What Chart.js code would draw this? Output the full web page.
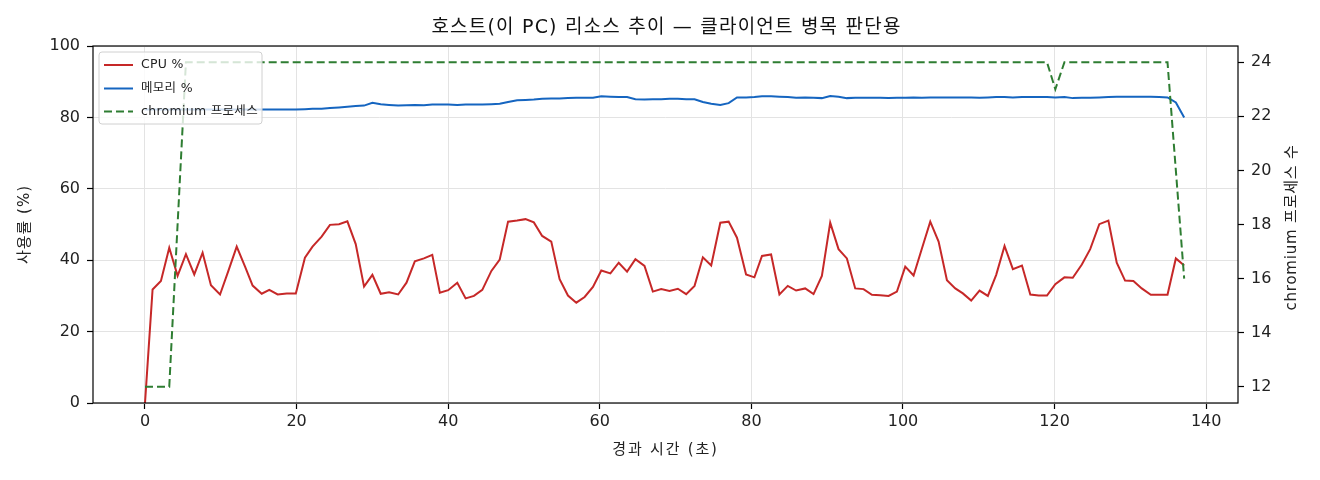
<!DOCTYPE html>
<html><head><meta charset="utf-8">
<script src="https://cdn.jsdelivr.net/npm/chart.js@4.4.0/dist/chart.umd.min.js"></script>
<style>html,body{margin:0;padding:0;background:#fff;}</style>
</head><body>
<canvas id="c" width="1320" height="480"></canvas>
<script>
const chartTitle = '호스트(이 PC) 리소스 추이 — 클라이언트 병목 판단용';
const xTitle = '경과 시간 (초)';
const yLeftTitle = '사용률 (%)';
const yRightTitle = 'chromium 프로세스 수';
const seriesNames = ['CPU %', '메모리 %', 'chromium 프로세스'];

const times = [0.0,1.0,2.1,3.2,4.3,5.4,6.5,7.6,8.7,9.9,
  11.0,12.1,13.2,14.2,15.4,16.4,17.5,18.7,19.9,21.1,
  22.1,23.3,24.4,25.6,26.7,27.8,28.9,30.0,31.1,32.2,
  33.4,34.5,35.6,36.8,37.9,38.9,40.0,41.2,42.3,43.4,
  44.5,45.7,46.8,47.9,49.1,50.2,51.3,52.4,53.6,54.7,
  55.8,56.9,58.0,59.1,60.2,61.4,62.5,63.6,64.7,65.9,
  67.0,68.1,69.2,70.3,71.4,72.5,73.6,74.7,75.9,77.0,
  78.1,79.3,80.4,81.4,82.6,83.7,84.8,85.9,87.1,88.2,
  89.3,90.4,91.5,92.6,93.7,94.8,95.9,97.0,98.1,99.2,
  100.3,101.4,102.5,103.6,104.7,105.8,106.9,107.9,109.0,110.1,
  111.2,112.3,113.4,114.5,115.7,116.8,117.9,119.0,120.1,121.3,
  122.4,123.6,124.7,125.9,127.1,128.2,129.3,130.4,131.5,132.7,
  133.8,134.9,136.0,137.1];

const cpuPct = [0,31.8,34.2,43.5,35.6,41.7,36.0,42.1,33.0,30.4,
  37.0,43.8,38.2,32.9,30.6,31.7,30.4,30.7,30.7,40.7,
  43.8,46.6,49.9,50.1,50.9,44.5,32.6,35.9,30.6,31.0,
  30.4,33.7,39.7,40.5,41.5,30.9,31.6,33.7,29.3,30.0,
  31.7,37.0,40.2,50.8,51.1,51.5,50.6,46.8,45.2,34.7,
  30.1,28.1,29.7,32.5,37.1,36.3,39.3,36.8,40.3,38.4,
  31.2,31.9,31.4,32.0,30.5,32.8,40.8,38.5,50.5,50.8,
  46.3,36.0,35.2,41.2,41.6,30.4,32.8,31.5,32.1,30.5,
  35.6,50.5,43.1,40.5,32.1,31.9,30.3,30.2,30.0,31.2,
  38.2,35.7,43.3,50.8,45.2,34.4,32.1,30.7,28.7,31.5,
  30.0,35.9,44.0,37.5,38.5,30.4,30.1,30.1,33.3,35.2,
  35.1,38.8,43.1,50.1,51.1,39.3,34.3,34.2,32.1,30.3,
  30.3,30.3,40.5,38.5];

const memPct = [82.2,82.2,82.2,82.2,82.2,82.2,82.2,82.2,82.2,82.2,
  82.2,82.2,82.2,82.2,82.2,82.2,82.2,82.2,82.2,82.3,
  82.4,82.4,82.6,82.8,83.0,83.2,83.3,84.1,83.7,83.5,
  83.3,83.4,83.5,83.4,83.6,83.6,83.6,83.5,83.6,83.6,
  83.6,83.7,83.8,84.3,84.8,84.9,85.0,85.2,85.3,85.3,
  85.4,85.5,85.5,85.5,85.9,85.8,85.7,85.7,85.1,85.0,
  85.1,85.1,85.2,85.2,85.1,85.1,84.3,83.8,83.5,84.0,
  85.6,85.6,85.7,85.9,85.9,85.8,85.7,85.5,85.6,85.5,
  85.4,86.0,85.8,85.4,85.5,85.5,85.5,85.5,85.4,85.5,
  85.5,85.6,85.5,85.6,85.6,85.6,85.6,85.6,85.6,85.5,
  85.6,85.7,85.7,85.6,85.7,85.7,85.7,85.7,85.6,85.7,
  85.4,85.5,85.5,85.6,85.7,85.8,85.8,85.8,85.8,85.8,
  85.7,85.6,84.2,80.0];

const procCount = [12,12,12,12,18,24,24,24,24,24,
  24,24,24,24,24,24,24,24,24,24,
  24,24,24,24,24,24,24,24,24,24,
  24,24,24,24,24,24,24,24,24,24,
  24,24,24,24,24,24,24,24,24,24,
  24,24,24,24,24,24,24,24,24,24,
  24,24,24,24,24,24,24,24,24,24,
  24,24,24,24,24,24,24,24,24,24,
  24,24,24,24,24,24,24,24,24,24,
  24,24,24,24,24,24,24,24,24,24,
  24,24,24,24,24,24,24,24,23,24,
  24,24,24,24,24,24,24,24,24,24,
  24,24,20,16];

const xTicks = [0,20,40,60,80,100,120,140];
const yLeftTicks = [0,20,40,60,80,100];
const yRightTicks = [12,14,16,18,20,22,24];

const FONT = "'DejaVu Sans','Noto Sans CJK KR',sans-serif";
const colors = ['#c62828','#1565c0','#2e7d32'];

function pts(ys){ return times.map((t,i)=>({x:t,y:ys[i]})); }

function spacedText(ctx, text, x, y, spacing){
  if ('letterSpacing' in ctx) { ctx.letterSpacing = spacing + 'px'; }
  ctx.fillText(text, x, y);
  if ('letterSpacing' in ctx) { ctx.letterSpacing = '0px'; }
}

const framePlugin = {
  id:'frame',
  afterDraw(chart){
    const {ctx, chartArea:a} = chart;
    ctx.save();
    ctx.strokeStyle = '#000'; ctx.lineWidth = 1.2;
    ctx.strokeRect(a.left, a.top, a.right-a.left, a.bottom-a.top);
    const cx = (a.left+a.right)/2, cy = (a.top+a.bottom)/2;
    ctx.fillStyle = '#111';
    ctx.textAlign = 'center'; ctx.textBaseline = 'middle';
    // title
    ctx.font = "19px " + FONT;
    spacedText(ctx, chartTitle, cx + 1, 28, 1.2);
    // axis titles
    ctx.fillStyle = '#222';
    ctx.font = "15px " + FONT;
    spacedText(ctx, xTitle, cx, 450, 1.8);
    ctx.save(); ctx.translate(25, cy); ctx.rotate(-Math.PI/2);
    spacedText(ctx, yLeftTitle, 0, 0, 1); ctx.restore();
    ctx.save(); ctx.translate(1292, cy + 3); ctx.rotate(-Math.PI/2);
    spacedText(ctx, yRightTitle, 0, 0, 0.8); ctx.restore();
    // legend
    const lx = 99, ly = 52, lw = 163, lh = 72;
    ctx.beginPath();
    if (ctx.roundRect) ctx.roundRect(lx, ly, lw, lh, 3); else ctx.rect(lx,ly,lw,lh);
    ctx.fillStyle = 'rgba(255,255,255,0.8)'; ctx.fill();
    ctx.strokeStyle = '#d0d0d0'; ctx.lineWidth = 1; ctx.stroke();
    const rows = [65, 88.5, 111.5];
    chart.data.datasets.forEach((ds,i)=>{
      ctx.beginPath();
      ctx.strokeStyle = ds.borderColor; ctx.lineWidth = ds.borderWidth;
      ctx.setLineDash(ds.borderDash || []);
      ctx.moveTo(104, rows[i]); ctx.lineTo(133, rows[i]); ctx.stroke();
      ctx.setLineDash([]);
      ctx.fillStyle = '#222';
      ctx.font = "12.5px " + FONT;
      ctx.textAlign = 'left'; ctx.textBaseline = 'middle';
      spacedText(ctx, ds.label, 141, rows[i], 0.3);
    });
    ctx.restore();
  }
};

const setTicks = arr => scale => { scale.ticks = arr.map(v=>({value:v})); };

new Chart(document.getElementById('c'), {
  type: 'line',
  data: {
    datasets: [
      {label: seriesNames[0], data: pts(cpuPct), borderColor: colors[0], borderWidth: 2, pointRadius: 0, tension: 0, yAxisID: 'y', order: 2},
      {label: seriesNames[1], data: pts(memPct), borderColor: colors[1], borderWidth: 2, pointRadius: 0, tension: 0, yAxisID: 'y', order: 1},
      {label: seriesNames[2], data: pts(procCount), borderColor: colors[2], borderWidth: 2, borderDash: [8,4], pointRadius: 0, tension: 0, yAxisID: 'y2', order: 0}
    ]
  },
  options: {
    responsive: false,
    animation: false,
    devicePixelRatio: 1,
    layout: {padding: {top: 46, left: 0, right: 0, bottom: 0}},
    plugins: {legend: {display: false}, tooltip: {enabled: false}, title: {display: false}},
    scales: {
      x: {
        type: 'linear', min: -6.86, max: 144.2,
        afterBuildTicks: setTicks(xTicks),
        afterFit: s => { s.height = 77; },
        grid: {color: '#e3e3e3', lineWidth: 1, tickColor: '#000', tickLength: 6, tickWidth: 1.2},
        border: {display: false},
        ticks: {font: {family: FONT, size: 16}, color: '#222', padding: 3, maxRotation: 0},
        title: {display: false}
      },
      y: {
        position: 'left', min: 0, max: 100,
        afterBuildTicks: setTicks(yLeftTicks),
        afterFit: s => { s.width = 93; },
        grid: {color: '#e3e3e3', lineWidth: 1, tickColor: '#000', tickLength: 6, tickWidth: 1.2},
        border: {display: false},
        ticks: {font: {family: FONT, size: 16}, color: '#222', padding: 7},
        title: {display: false}
      },
      y2: {
        position: 'right', min: 11.4, max: 24.6,
        afterBuildTicks: setTicks(yRightTicks),
        afterFit: s => { s.width = 82; },
        grid: {drawOnChartArea: false, tickColor: '#000', tickLength: 6, tickWidth: 1.2},
        border: {display: false},
        ticks: {font: {family: FONT, size: 16}, color: '#222', padding: 7},
        title: {display: false}
      }
    }
  },
  plugins: [framePlugin]
});
</script>
</body></html>
